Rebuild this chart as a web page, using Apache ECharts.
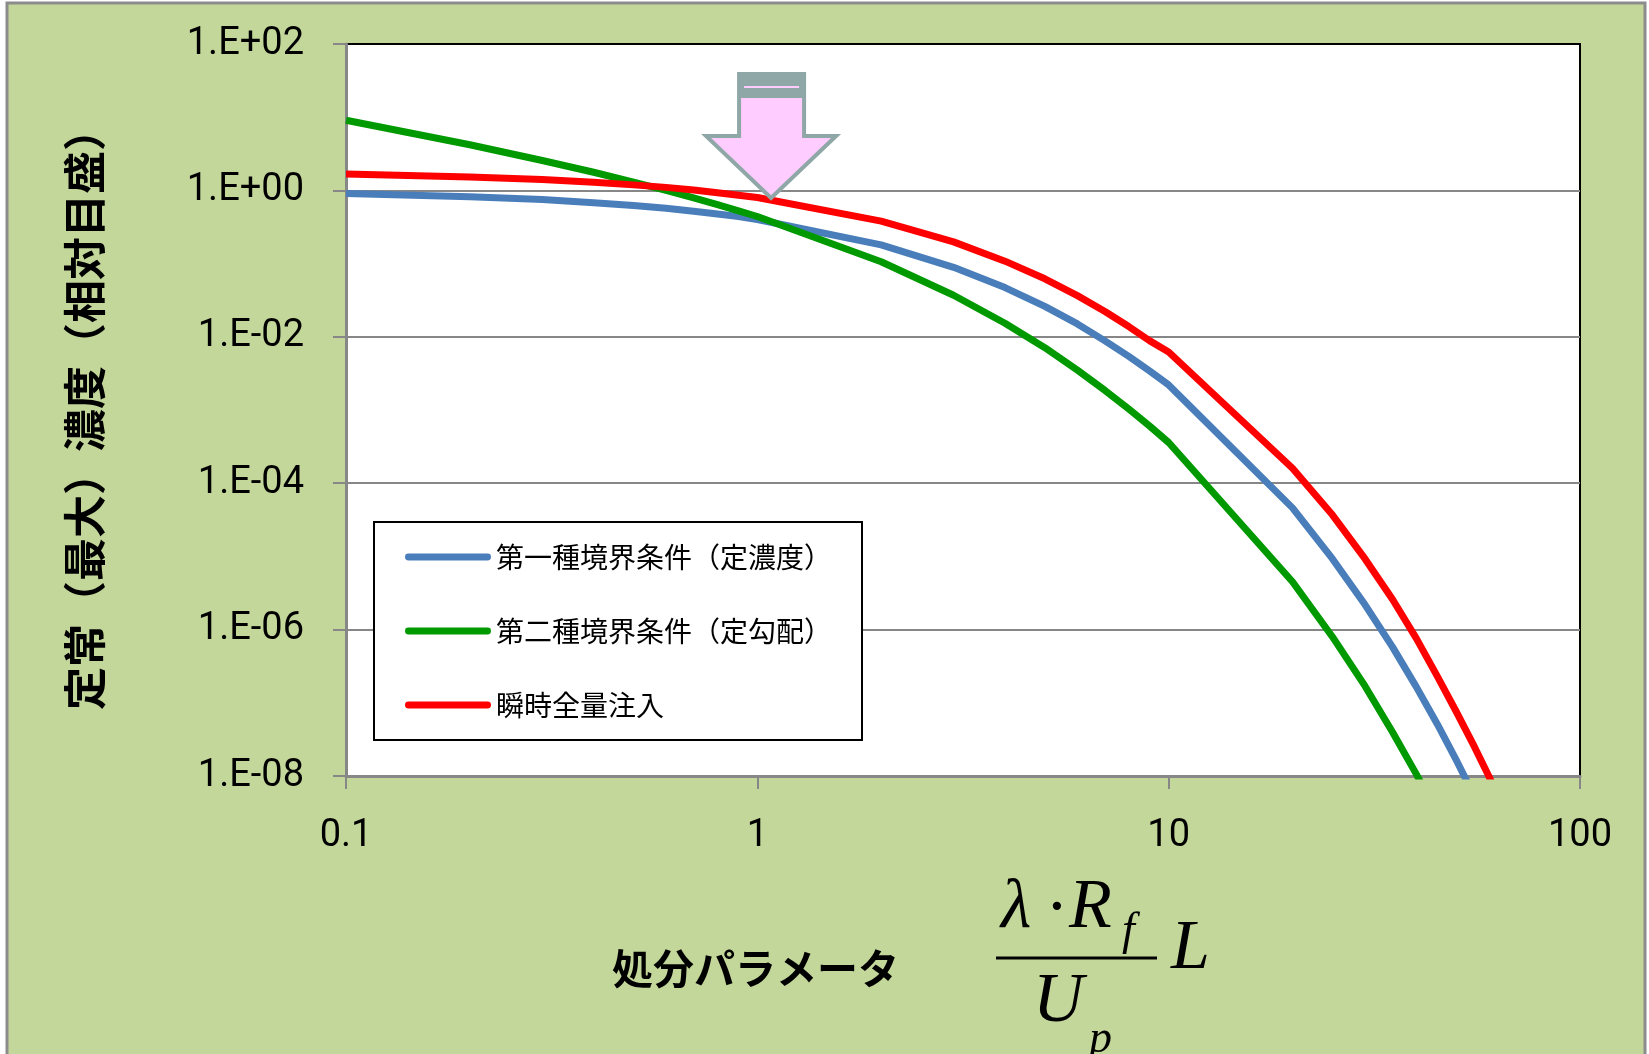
<!DOCTYPE html>
<html>
<head>
<meta charset="utf-8">
<script src="https://cdn.jsdelivr.net/npm/echarts@6/dist/echarts.min.js"></script>
<style>
html,body{margin:0;padding:0;background:#fff;}
#c{width:1649px;height:1054px;}
</style>
</head>
<body>
<div id="c"></div>
<script>
// ---- data ----
const xValues = [0.1,0.2,0.3,0.4,0.5,0.6,0.7,0.8,0.9,1,2,3,4,5,6,7,8,9,10,20,25,30,35,40,45,50,55,60,70];
const seriesNames = ['第一種境界条件（定濃度）','第二種境界条件（定勾配）','瞬時全量注入'];
const blueValues  = [0.91,0.82,0.75,0.68,0.62,0.57,0.52,0.475,0.44,0.40,0.18,0.089,0.047,0.026,0.015,0.0088,0.0054,0.0034,0.0022,4.6e-5,9.3e-6,2.2e-6,5.8e-7,1.65e-7,5.1e-8,1.66e-8,5.7e-9,2.1e-9,3.0e-10];
const greenValues = [9.1,4.2,2.56,1.77,1.30,1.00,0.79,0.64,0.525,0.44,0.106,0.037,0.0153,0.0071,0.0035,0.00185,0.00103,0.0006,0.00036,4.5e-6,8.0e-7,1.7e-7,4.0e-8,1.06e-8,3.0e-9,9.3e-10,3.0e-10,1.0e-10,1.4e-11];
const redValues   = [1.67,1.53,1.41,1.29,1.19,1.10,1.01,0.93,0.86,0.80,0.38,0.198,0.108,0.062,0.0365,0.0222,0.0138,0.0088,0.0062,1.6e-4,3.7e-5,9.3e-6,2.6e-6,7.6e-7,2.3e-7,7.6e-8,2.7e-8,1.0e-8,1.5e-9];
const xTickLabels = ['0.1','1','10','100'];
const yAxisName = '定常（最大）濃度（相対目盛）';
const xAxisName = '処分パラメータ';
const arrowAt = [1.08, 0.79];

const colors = ['#4A7EBB','#009A00','#FF0000'];
const pairs = v => xValues.map((x,i)=>[x, v[i]]);

const chart = echarts.init(document.getElementById('c'), null, {renderer:'canvas', width:1649, height:1054});
const gray = '#878787';
const numFont = "Roboto,'Liberation Sans',sans-serif";
const jpFont = "'Noto Sans CJK JP',sans-serif";
const serif = "'Liberation Serif','DejaVu Serif',serif";

const capsule = 'path://M4 0H96A4 4 0 0 1 96 8H4A4 4 0 0 1 4 0Z';

chart.setOption({
  animation:false,
  backgroundColor:'#ffffff',
  grid:{left:346, top:44, width:1234, height:732, show:true, backgroundColor:'#ffffff', borderColor:'#000', borderWidth:2},
  legend:{
    orient:'vertical', left:374, top:522,
    padding:[20,30,20,31], itemGap:44,
    itemWidth:86, itemHeight:8, itemTextGap:12,
    backgroundColor:'#fff', borderColor:'#000', borderWidth:2,
    textStyle:{fontFamily:jpFont, fontSize:28, color:'#000', lineHeight:30},
    data: seriesNames.map(n=>({name:n, icon:capsule}))
  },
  xAxis:{
    type:'log', logBase:10, min:0.1, max:100,
    axisLine:{show:true, lineStyle:{color:gray, width:3}},
    axisTick:{show:true, inside:false, length:13, lineStyle:{color:gray, width:2}},
    minorTick:{show:false},
    splitLine:{show:false},
    axisLabel:{
      fontFamily:numFont, fontSize:38, color:'#000', margin:40, lineHeight:40,
      formatter:(v)=>{ const e = Math.round(Math.log10(v)); return xTickLabels[e+1]; }
    }
  },
  yAxis:{
    type:'log', logBase:10, min:1e-8, max:100, interval:2,
    axisLine:{show:true, lineStyle:{color:gray, width:3}},
    axisTick:{show:true, inside:false, length:13, lineStyle:{color:gray, width:2}},
    splitLine:{show:true, showMaxLine:false, lineStyle:{color:gray, width:2}},
    axisLabel:{
      fontFamily:numFont, fontSize:38, color:'#000', margin:42,
      formatter:(v)=>{ const e = Math.round(Math.log10(v)); return '1.E' + (e<0?'-':'+') + String(Math.abs(e)).padStart(2,'0'); }
    }
  },
  series:[blueValues, greenValues, redValues].map((vals,i)=>({
    name:seriesNames[i], type:'line', data:pairs(vals),
    showSymbol:false, symbol:'none', smooth:false, clip:true,
    color:colors[i],
    lineStyle:{color:colors[i], width:7, join:'round'}
  }))
});

const tip = chart.convertToPixel({gridIndex:0}, arrowAt);
const tx = tip[0], ty = tip[1];
const arrowStroke = '#8FA7A7', arrowFill = '#FFCCFF';

chart.setOption({
  graphic:[
    {type:'rect', z:-100, silent:true, shape:{x:7, y:3, width:1638, height:1070},
     style:{fill:'#C4D79B', stroke:'#8C8C8C', lineWidth:3}},
    {type:'text', z:100, x:85, y:409, rotation:Math.PI/2,
     style:{text:yAxisName, font:"bold 43px 'Noto Sans CJK JP', sans-serif", fill:'#000', align:'center', verticalAlign:'middle'}},
    {type:'text', z:100, x:612, y:968,
     style:{text:xAxisName, font:"bold 41px 'Noto Sans CJK JP', sans-serif", fill:'#000', align:'left', verticalAlign:'middle'}},
    // formula  λ·R_f / U_p  L
    {type:'text', z:100, x:1001, y:909, style:{text:'λ', font:"italic 70px "+serif, fill:'#000', align:'left', verticalAlign:'middle'}},
    {type:'text', z:100, x:1057, y:911, style:{text:'·', font:"70px "+serif, fill:'#000', align:'center', verticalAlign:'middle'}},
    {type:'text', z:100, x:1069, y:909, style:{text:'R', font:"italic 70px "+serif, fill:'#000', align:'left', verticalAlign:'middle'}},
    {type:'text', z:100, x:1122, y:932, style:{text:'f', font:"italic 46px "+serif, fill:'#000', align:'left', verticalAlign:'middle'}},
    {type:'line', z:100, shape:{x1:996, y1:958, x2:1157, y2:958}, style:{stroke:'#000', lineWidth:3}},
    {type:'text', z:100, x:1033, y:1003, style:{text:'U', font:"italic 70px "+serif, fill:'#000', align:'left', verticalAlign:'middle'}},
    {type:'text', z:100, x:1089, y:1040, style:{text:'p', font:"italic 46px "+serif, fill:'#000', align:'left', verticalAlign:'middle'}},
    {type:'text', z:100, x:1171, y:950, style:{text:'L', font:"italic 70px "+serif, fill:'#000', align:'left', verticalAlign:'middle'}},
    // arrow annotation
    {type:'polygon', z:100, shape:{points:[[tx-32,ty-124],[tx+33,ty-124],[tx+33,ty-62],[tx+65,ty-62],[tx,ty],[tx-65,ty-62],[tx-32,ty-62]]},
     style:{fill:arrowFill, stroke:arrowStroke, lineWidth:4, lineJoin:'miter'}},
    {type:'rect', z:101, shape:{x:tx-32, y:ty-124, width:65, height:24}, style:{fill:arrowStroke}},
    {type:'line', z:102, shape:{x1:tx-27, y1:ty-111, x2:tx+28, y2:ty-111}, style:{stroke:arrowFill, lineWidth:2}}
  ]
});
</script>
</body>
</html>
